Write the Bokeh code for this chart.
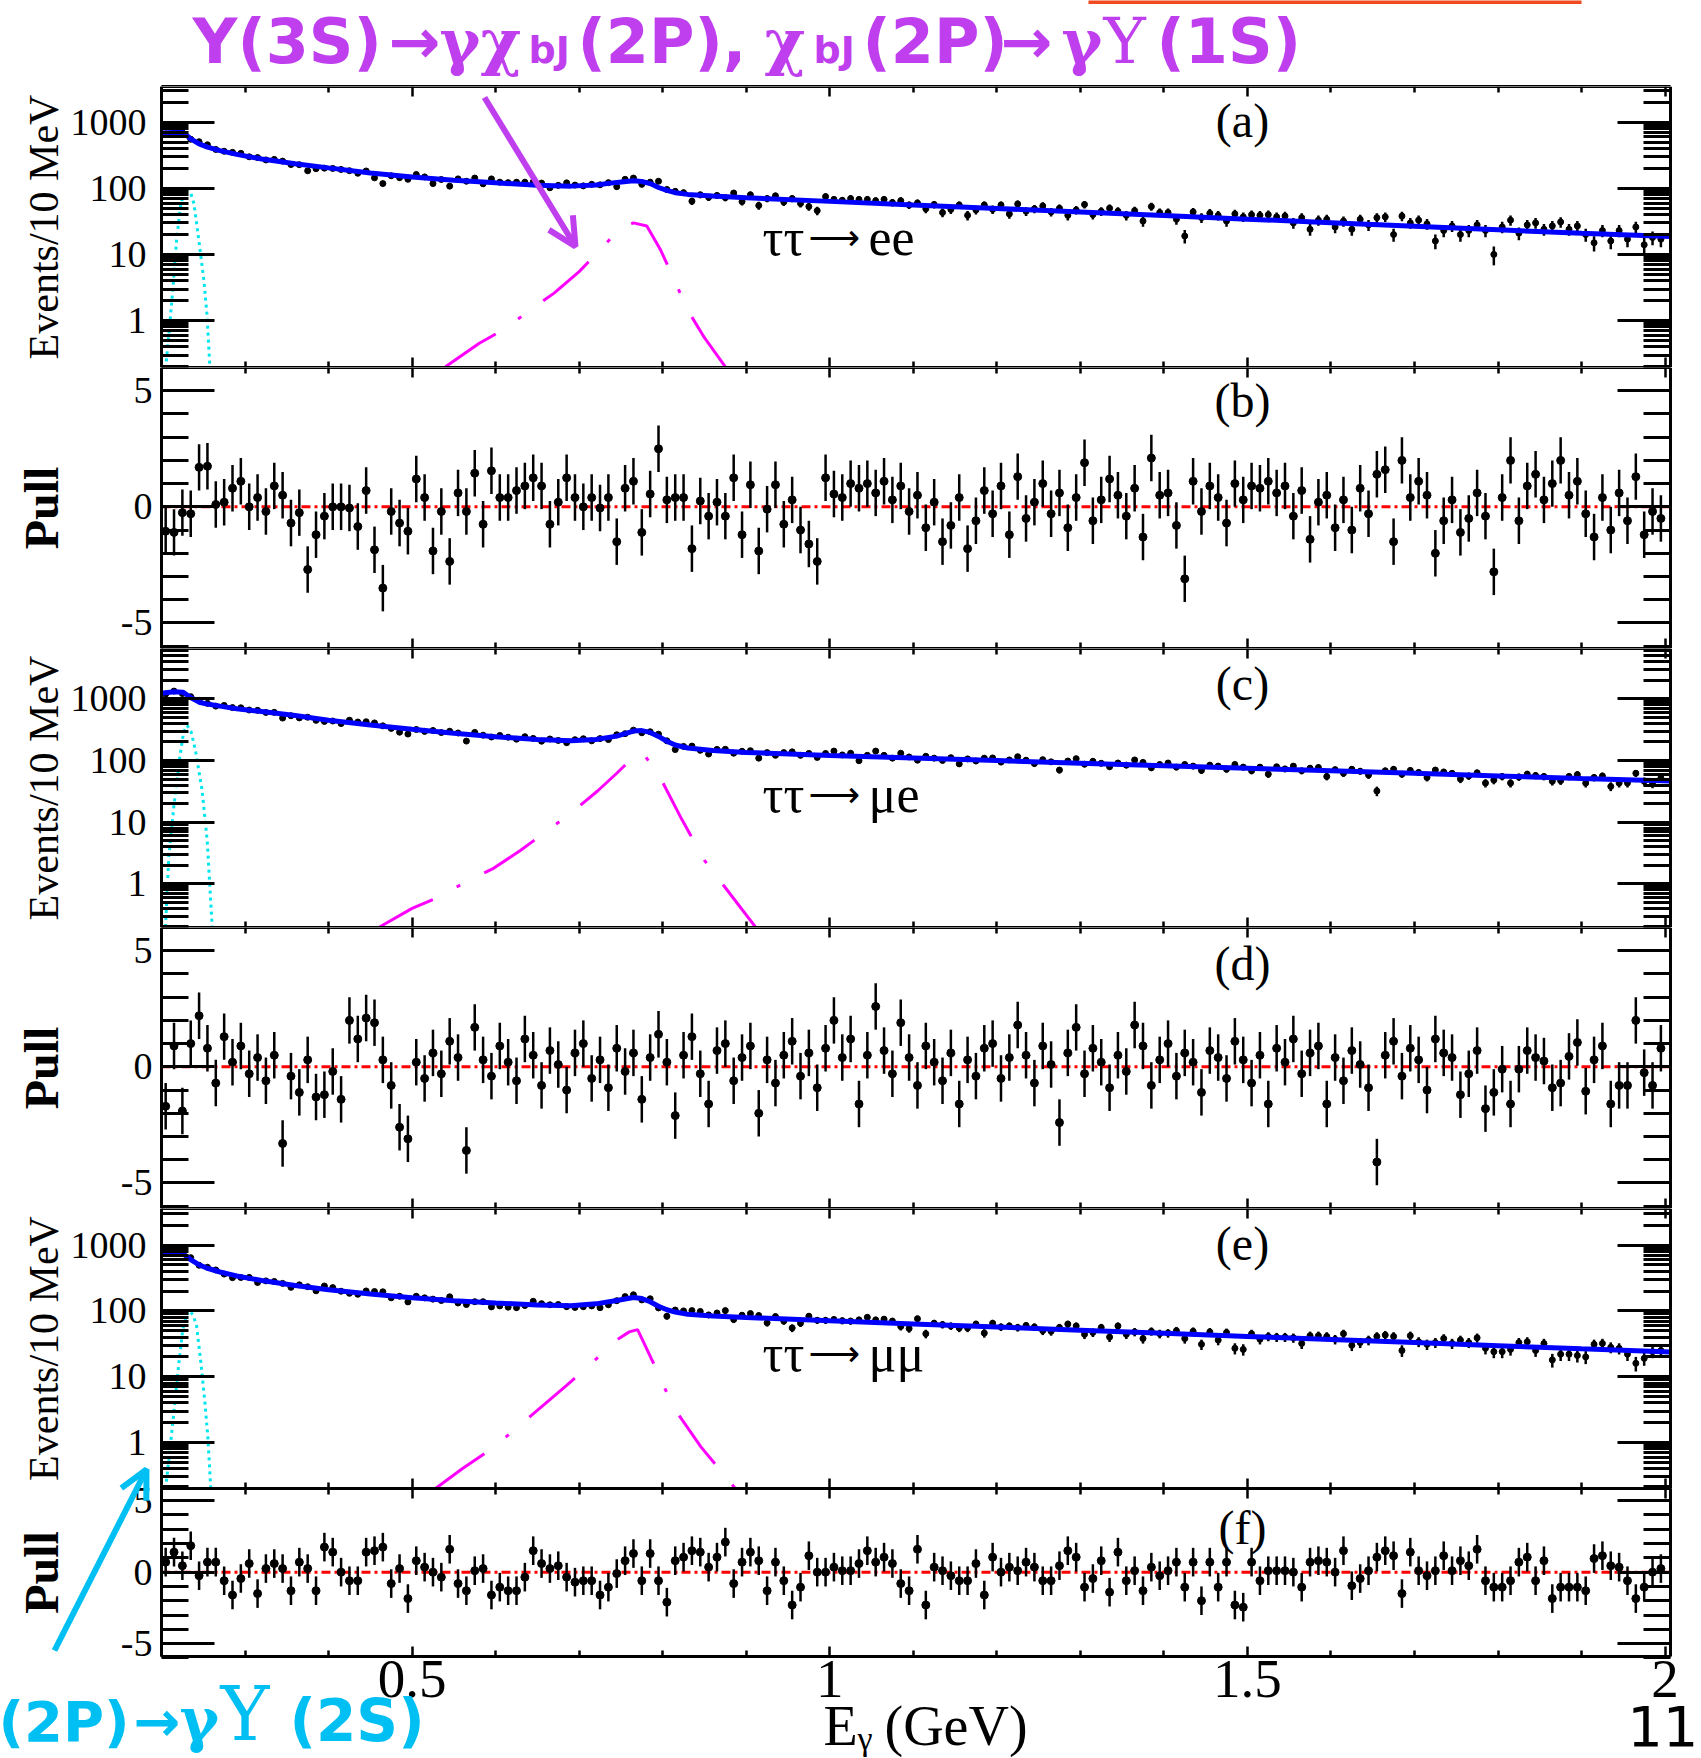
import numpy as np
from bokeh.plotting import figure
from bokeh.models import (Range1d, LinearAxis, LogAxis, FixedTicker, BasicTickFormatter,
                          Label, Arrow, OpenHead, LogScale)
from bokeh.layouts import column
from bokeh.embed import file_html
from bokeh.resources import INLINE

# ---------------- data (10 MeV bins, 0.2 - 2.0 GeV) ----------------
E_BIN = np.round(0.205 + 0.01 * np.arange(180), 3)

# (a) tau tau -> e e : events / 10 MeV
cnt_a = [662, 671, 693, 553, 507, 456, 387, 364, 350, 338,
         300, 292, 269, 274, 258, 229, 228, 184, 198, 202,
         200, 193, 185, 169, 183, 144, 118, 155, 145, 137,
         162, 149, 118, 136, 108, 139, 128, 143, 117, 139,
         124, 122, 124, 124, 125, 120, 102, 111, 121, 112,
         109, 115, 113, 122, 106, 137, 143, 115, 124, 128,
         96, 90, 86, 64, 80, 73, 78, 72, 85, 63,
         80, 55, 70, 77, 62, 70, 59, 53, 46, 75,
         68, 66, 70, 68, 68, 65, 68, 61, 65, 56,
         60, 49, 57, 43, 48, 56, 39, 47, 56, 48,
         56, 41, 58, 45, 49, 54, 44, 50, 39, 47,
         57, 40, 45, 50, 45, 39, 46, 32, 53, 43,
         43, 34, 19, 44, 36, 42, 39, 32, 41, 37,
         40, 39, 40, 37, 38, 30, 36, 24, 33, 34,
         26, 32, 24, 34, 28, 36, 37, 20, 38, 30,
         33, 29, 16, 23, 27, 20, 23, 28, 23, 10,
         26, 33, 21, 28, 30, 24, 27, 31, 24, 27,
         20, 15, 23, 16, 23, 17, 26, 14, 18, 17]

# (b) pull for (a)
pull_b = [-1.05, -1.1, -0.25, -0.3, 1.7, 1.75, 0.1, 0.2, 0.8, 1.1,
          0.0, 0.4, -0.2, 0.9, 0.5, -0.7, -0.25, -2.7, -1.2, -0.4,
          0.0, 0.0, -0.05, -0.85, 0.7, -1.85, -3.5, -0.2, -0.7, -1.05,
          1.2, 0.4, -1.9, -0.2, -2.35, 0.6, -0.2, 1.45, -0.75, 1.55,
          0.4, 0.4, 0.7, 0.9, 1.25, 0.9, -0.75, 0.2, 1.25, 0.4,
          0.0, 0.4, -0.05, 0.4, -1.5, 0.8, 1.1, -1.1, 0.55, 2.5,
          0.3, 0.4, 0.4, -1.8, 0.25, -0.4, 0.2, -0.4, 1.25, -1.2,
          0.95, -1.9, -0.1, 0.95, -0.75, 0.3, -1.0, -1.6, -2.35, 1.25,
          0.55, 0.4, 1.0, 0.8, 1.0, 0.6, 1.1, 0.3, 0.9, -0.2,
          0.5, -0.9, 0.2, -1.5, -0.8, 0.4, -1.8, -0.6, 0.7, -0.3,
          0.9, -1.2, 1.3, -0.5, 0.2, 1.0, -0.3, 0.6, -0.9, 0.4,
          1.9, -0.6, 0.3, 1.2, 0.5, -0.4, 0.8, -1.3, 2.1, 0.5,
          0.6, -0.8, -3.1, 1.1, -0.2, 0.9, 0.4, -0.7, 1.0, 0.3,
          0.9, 0.8, 1.1, 0.6, 0.9, -0.4, 0.7, -1.4, 0.2, 0.5,
          -0.9, 0.3, -1.0, 0.8, -0.3, 1.4, 1.6, -1.5, 2.0, 0.4,
          1.1, 0.5, -2.0, -0.6, 0.3, -1.1, -0.5, 0.6, -0.4, -2.8,
          0.4, 2.0, -0.6, 0.9, 1.4, 0.3, 1.0, 2.0, 0.5, 1.1,
          -0.3, -1.3, 0.4, -1.0, 0.6, -0.6, 1.3, -1.2, -0.2, -0.5]

# (c) tau tau -> mu e
cnt_c = [1190, 1332, 1212, 1082, 945, 843, 760, 780, 720, 714,
         657, 650, 600, 602, 486, 531, 490, 502, 447, 429,
         436, 396, 450, 420, 424, 406, 364, 331, 287, 268,
         318, 296, 306, 283, 298, 279, 206, 285, 257, 240,
         254, 238, 221, 243, 228, 205, 223, 211, 194, 217,
         225, 208, 226, 218, 261, 272, 310, 281, 292, 267,
         208, 150, 169, 171, 146, 127, 151, 152, 131, 141,
         144, 109, 134, 121, 134, 138, 121, 130, 112, 130,
         142, 123, 131, 99, 121, 142, 121, 109, 131, 114,
         101, 117, 109, 100, 111, 88, 106, 98, 109, 110,
         94, 102, 115, 101, 89, 103, 95, 70, 98, 107,
         87, 97, 90, 79, 91, 84, 102, 93, 76, 86,
         91, 78, 86, 81, 69, 84, 81, 72, 86, 78,
         68, 78, 60, 79, 73, 81, 68, 75, 77, 55,
         71, 62, 72, 67, 58, 32, 68, 72, 60, 69,
         64, 53, 70, 65, 62, 50, 56, 63, 43, 48,
         55, 43, 54, 60, 57, 55, 46, 47, 55, 59,
         43, 53, 56, 38, 43, 43, 62, 46, 42, 52]

# (d) pull for (c)
pull_d = [-1.7, 0.9, -1.9, 1.0, 2.2, 0.8, -0.7, 1.3, 0.2, 0.9,
          -0.3, 0.4, -0.6, 0.5, -3.3, -0.4, -1.1, 0.3, -1.3, -1.2,
          -0.2, -1.4, 2.0, 1.2, 2.1, 1.9, 0.3, -0.8, -2.6, -3.1,
          0.2, -0.5, 0.6, -0.3, 1.1, 0.4, -3.6, 1.7, 0.3, -0.4,
          0.9, 0.2, -0.6, 1.2, 0.5, -0.8, 0.7, 0.1, -1.0, 0.6,
          1.0, -0.5, 0.3, -0.9, 0.8, -0.2, 0.6, -1.4, 0.4, 1.4,
          0.2, -2.1, 0.5, 1.3, -0.3, -1.6, 0.7, 1.0, -0.6, 0.4,
          0.9, -2.0, 0.3, -0.7, 0.5, 1.1, -0.4, 0.6, -0.9, 0.8,
          2.0, 0.4, 1.2, -1.6, 0.5, 2.6, 0.7, -0.3, 1.9, 0.4,
          -0.8, 0.9, 0.2, -0.6, 0.6, -1.6, 0.3, -0.4, 0.8, 1.0,
          -0.5, 0.4, 1.8, 0.5, -0.7, 0.9, 0.1, -2.4, 0.6, 1.7,
          -0.3, 0.8, 0.2, -0.9, 0.5, -0.2, 1.8, 0.9, -0.8, 0.3,
          1.0, -0.4, 0.6, 0.2, -1.1, 0.7, 0.4, -0.5, 1.1, 0.3,
          -0.7, 0.5, -1.6, 0.8, 0.2, 1.2, -0.3, 0.6, 0.9, -1.6,
          0.4, -0.6, 0.7, 0.1, -0.9, -4.1, 0.5, 1.1, -0.4, 0.8,
          0.3, -1.0, 1.2, 0.6, 0.4, -1.2, -0.3, 0.7, -1.8, -1.1,
          -0.1, -1.6, -0.1, 0.7, 0.4, 0.25, -0.9, -0.7, 0.45, 1.05,
          -1.05, 0.3, 0.9, -1.6, -0.8, -0.8, 2.0, -0.25, -0.8, 0.8]

# (e) tau tau -> mu mu
cnt_e = [759, 799, 752, 645, 494, 460, 419, 363, 320, 322,
         323, 270, 286, 280, 262, 228, 249, 233, 202, 239,
         226, 199, 185, 179, 201, 197, 195, 158, 167, 137,
         167, 158, 151, 144, 164, 132, 125, 138, 138, 115,
         119, 114, 112, 121, 140, 129, 124, 125, 116, 113,
         116, 119, 112, 124, 143, 165, 176, 147, 153, 111,
         83, 103, 100, 101, 98, 87, 93, 101, 74, 86,
         91, 85, 66, 82, 70, 55, 65, 83, 72, 72,
         74, 71, 70, 73, 80, 73, 75, 70, 58, 54,
         76, 45, 65, 62, 59, 55, 55, 63, 46, 65,
         57, 59, 56, 60, 57, 50, 49, 56, 63, 59,
         44, 47, 56, 40, 59, 44, 48, 38, 49, 45,
         46, 50, 38, 49, 31, 48, 36, 47, 27, 26,
         45, 37, 41, 40, 40, 39, 32, 42, 42, 41,
         37, 45, 30, 33, 36, 41, 43, 41, 25, 42,
         34, 31, 33, 38, 32, 36, 33, 39, 27, 24,
         24, 26, 33, 34, 25, 32, 18, 22, 22, 21,
         20, 31, 32, 28, 27, 22, 16, 19, 24, 25]

# (f) pull for (e)
pull_f = [0.7, 1.4, 0.45, 1.85, -0.25, 0.7, 0.7, -0.6, -1.6, -0.45,
          0.6, -1.5, 0.25, 0.6, 0.25, -1.3, 0.7, 0.25, -1.3, 1.75,
          1.4, 0.0, -0.6, -0.6, 1.4, 1.5, 1.75, -0.8, 0.25, -1.85,
          0.8, 0.35, 0.0, -0.35, 1.6, -0.8, -1.3, 0.1, 0.25, -1.6,
          -1.05, -1.3, -1.3, -0.35, 1.5, 0.6, 0.25, 0.45, -0.35, -0.7,
          -0.6, -0.6, -1.6, -1.05, -0.1, 0.8, 1.3, -0.6, 1.3, -0.6,
          -2.1, 0.8, 1.05, 1.5, 1.4, 0.35, 1.05, 2.1, -0.8, 0.7,
          1.4, 0.8, -1.3, 0.7, -0.6, -2.3, -1.05, 1.15, 0.0, 0.0,
          0.35, 0.1, 0.1, 0.6, 1.5, 0.7, 1.05, 0.6, -0.8, -1.3,
          1.6, -2.3, 0.35, 0.1, -0.25, -0.6, -0.6, 0.6, -1.6, 1.05,
          0.0, 0.35, 0.1, 0.7, 0.35, -0.6, -0.6, 0.45, 1.5, 1.05,
          -1.05, -0.45, 0.8, -1.4, 1.4, -0.6, 0.1, -1.3, 0.35, -0.25,
          0.1, 0.7, -1.05, 0.7, -2.0, 0.7, -1.05, 0.7, -2.3, -2.45,
          0.7, -0.6, 0.1, 0.1, 0.1, 0.0, -1.05, 0.7, 0.8, 0.7,
          0.0, 1.5, -0.95, -0.45, 0.1, 1.05, 1.5, 1.15, -1.5, 1.4,
          0.1, -0.25, 0.1, 1.15, 0.1, 0.8, 0.45, 1.6, -0.6, -1.05,
          -1.05, -0.6, 0.7, 1.05, -0.6, 0.8, -1.85, -1.05, -1.05, -1.05,
          -1.3, 0.95, 1.15, 0.45, 0.35, -0.6, -1.85, -1.05, 0.0, 0.25]

# total fit curves (blue)
fit_E = [0.200, 0.215, 0.226, 0.235, 0.245, 0.255, 0.270, 0.290, 0.320, 0.360,
         0.400, 0.450, 0.500, 0.550, 0.600, 0.650, 0.690, 0.720, 0.745, 0.765,
         0.775, 0.785, 0.795, 0.805, 0.815, 0.830, 0.860, 0.900, 1.000, 1.100,
         1.200, 1.300, 1.400, 1.500, 1.600, 1.700, 1.800, 1.900, 2.0065]
fit_a = [685, 700, 700, 560, 470, 420, 372, 326, 278, 236,
         204, 171, 148, 133, 121, 111.5, 108, 112, 123, 130,
         127, 118, 103, 93, 86, 81, 76.5, 72, 63.5, 56,
         49.6, 43.8, 38.7, 34.2, 30.2, 26.7, 23.6, 20.9, 18.7]
fit_c = [1230, 1300, 1270, 1050, 880, 820, 760, 690, 620, 535,
         448, 376, 320, 276, 243, 219, 208, 218, 248, 300,
         305, 285, 245, 205, 178, 159, 145, 135, 120.5, 109.5,
         99.5, 90.5, 82.3, 74.8, 68, 61.8, 56.2, 51.1, 46.3]
fit_e = [745, 760, 740, 600, 500, 445, 390, 340, 289, 243,
         209, 180, 158, 143, 132, 123, 120, 128, 144, 160,
         154, 138, 118, 104, 96, 89, 83.5, 79.5, 70.8, 63.5,
         56.9, 51, 45.7, 41, 36.8, 33, 29.6, 26.5, 23.8]

# chi_bJ(2P) -> gamma Upsilon(2S) component (cyan, dotted)
cyan_a_E = [0.205, 0.210, 0.214, 0.218, 0.2225, 0.227, 0.231, 0.235, 0.2388, 0.2448, 0.2508, 0.2545, 0.258]
cyan_a_y = [0.19, 0.9, 3.5, 16, 52, 88, 100, 85, 59, 16, 4.0, 1.2, 0.19]
cyan_c_E = [0.2048, 0.2087, 0.2147, 0.2219, 0.2265, 0.2308, 0.2355, 0.2407, 0.2487, 0.2547, 0.2607]
cyan_c_y = [0.2, 2.7, 17.5, 113, 290, 369, 290, 145, 32, 5, 0.2]
cyan_e_E = [0.205, 0.211, 0.216, 0.221, 0.2255, 0.230, 0.234, 0.238, 0.242, 0.247, 0.252, 0.2555, 0.259]
cyan_e_y = [0.2, 1.0, 4, 17, 52, 88, 100, 85, 59, 17, 4, 1.2, 0.2]

# chi_bJ(2P) -> gamma Upsilon(1S) component (magenta, dash-dot)
mag_a_E = [0.540, 0.580, 0.611, 0.640, 0.670, 0.700, 0.726, 0.749, 0.765, 0.781, 0.797, 0.813, 0.829, 0.850, 0.875]
mag_a_y = [0.2, 0.45, 0.75, 1.4, 2.6, 5.5, 12, 25, 30, 27, 12, 4.4, 1.5, 0.55, 0.2]
mag_c_E = [0.461, 0.500, 0.527, 0.566, 0.598, 0.630, 0.657, 0.690, 0.722, 0.745, 0.768, 0.777, 0.797, 0.823, 0.850, 0.873, 0.911]
mag_c_y = [0.2, 0.4, 0.57, 1.1, 1.8, 3.5, 6.5, 14, 32, 62, 125, 128, 53, 11, 2.4, 0.94, 0.2]
mag_e_E = [0.528, 0.560, 0.598, 0.640, 0.685, 0.715, 0.743, 0.760, 0.770, 0.790, 0.813, 0.846, 0.887]
mag_e_y = [0.2, 0.4, 0.85, 2.4, 7.4, 16, 35, 48, 52, 15, 3.4, 0.85, 0.2]

PULL_REF = 0.0
X_MIN, X_MAX = 0.2, 2.0065
X_MAJOR = [0.5, 1.0, 1.5, 2.0]
X_MINOR = [0.2, 0.3, 0.4, 0.6, 0.7, 0.8, 0.9, 1.1, 1.2, 1.3, 1.4, 1.6, 1.7, 1.8, 1.9]
LOG_MAJOR = [1, 10, 100, 1000]
LOG_MINOR = [m * 10.0 ** e for e in range(-1, 4) for m in range(2, 10)]
PULL_MAJOR = [-5, 0, 5]
PULL_MINOR = [-6, -4, -3, -2, -1, 1, 2, 3, 4, 6]

for arr in (cnt_a, cnt_c, cnt_e, pull_b, pull_d, pull_f):
    assert len(arr) == 180, len(arr)

# ---------------- layout constants ----------------
W = 1701
FL, FR = 161, 1670                 # page x of the panel frame edges
PXG = (FR - FL) / (X_MAX - X_MIN)  # pixels per GeV
XL = X_MIN - FL / PXG
XR = XL + W / PXG
SERIF = "Liberation Serif"
DSERIF = "DejaVu Serif"
SANS = "DejaVu Sans"
PURPLE = "#BF3FEF"
CYAN_T = "#00BFF3"

xr = Range1d(XL, XR)


def base_fig(height, yr, ylog=False, **kw):
    p = figure(frame_width=W, frame_height=height, x_range=xr, y_range=yr,
               y_axis_type="log" if ylog else "linear",
               x_axis_location=None, y_axis_location=None,
               min_border=0, min_border_left=0, min_border_right=0,
               min_border_top=0, min_border_bottom=0,
               toolbar_location=None, output_backend="svg", **kw)
    p.background_fill_color = "white"
    p.border_fill_color = "white"
    p.outline_line_color = None
    for g in p.grid:
        g.visible = False
    return p


def tick_axis(p, loc, minor, length, fixed, line=False, bounds=None, log=False, rn="default"):
    cls = LogAxis if log else LinearAxis
    ax = cls(ticker=FixedTicker(ticks=[], minor_ticks=minor), fixed_location=fixed, y_range_name=rn)
    ax.major_tick_in = 0
    ax.major_tick_out = 0
    ax.minor_tick_in = length
    ax.minor_tick_out = 0
    ax.minor_tick_line_width = 3 if loc in ("left", "right") else 2.5
    ax.axis_line_color = "black" if line else None
    ax.axis_line_width = 3
    if bounds is not None:
        ax.bounds = bounds
    p.add_layout(ax, loc)


def frame_axes(p, ylo, yhi, ylog, label, lab_size, lab_style, lab_standoff, tick_standoff,
               rn="default", xlabels=False):
    majors = LOG_MAJOR if ylog else PULL_MAJOR
    minors = LOG_MINOR if ylog else PULL_MINOR
    if ylog:
        ax = LogAxis(ticker=FixedTicker(ticks=majors, minor_ticks=minors),
                     formatter=BasicTickFormatter(), fixed_location=X_MIN, y_range_name=rn)
        ax.major_label_overrides = {1: "1", 10: "10", 100: "100", 1000: "1000"}
    else:
        ax = LinearAxis(ticker=FixedTicker(ticks=majors, minor_ticks=minors),
                        fixed_location=X_MIN, y_range_name=rn)
        ax.major_label_overrides = {-5: "-5", 0: "0", 5: "5"}
    ax.bounds = (ylo, yhi)
    ax.axis_line_color = "black"
    ax.axis_line_width = 3
    ax.major_tick_in = 53
    ax.major_tick_out = 0
    ax.minor_tick_in = 27
    ax.minor_tick_out = 0
    ax.major_tick_line_width = 3
    ax.minor_tick_line_width = 3
    ax.major_label_text_font = SERIF
    ax.major_label_text_font_size = "38px"
    ax.major_label_text_color = "black"
    ax.major_label_standoff = tick_standoff
    ax.axis_label = label
    ax.axis_label_text_font = SERIF
    ax.axis_label_text_font_size = f"{lab_size}px"
    ax.axis_label_text_font_style = lab_style
    ax.axis_label_text_color = "black"
    ax.axis_label_standoff = lab_standoff
    p.add_layout(ax, "left")
    yb = (ylo, yhi)
    tick_axis(p, "right", majors, 53, X_MAX, line=True, bounds=yb, log=ylog, rn=rn)
    tick_axis(p, "right", minors, 27, X_MAX, bounds=yb, log=ylog, rn=rn)
    b = (X_MIN, X_MAX)
    tick_axis(p, "above", X_MAJOR, 10, yhi, line=True, bounds=b, rn=rn)
    tick_axis(p, "above", X_MINOR, 6, yhi, bounds=b, rn=rn)
    if xlabels:
        xa = LinearAxis(ticker=FixedTicker(ticks=X_MAJOR, minor_ticks=X_MINOR),
                        fixed_location=ylo, y_range_name=rn)
        xa.bounds = b
        xa.axis_line_color = "black"
        xa.axis_line_width = 3
        xa.major_tick_in = 10
        xa.major_tick_out = 0
        xa.minor_tick_in = 6
        xa.minor_tick_out = 0
        xa.major_tick_line_width = 2.5
        xa.minor_tick_line_width = 2.5
        xa.major_label_text_font = SERIF
        xa.major_label_text_font_size = "55px"
        xa.major_label_text_color = "black"
        xa.major_label_standoff = 4
        xa.major_label_overrides = {0.5: "0.5", 1.0: "1", 1.5: "1.5", 2.0: "2"}
        p.add_layout(xa, "below")
    else:
        tick_axis(p, "below", X_MAJOR, 10, ylo, line=True, bounds=b, rn=rn)
        tick_axis(p, "below", X_MINOR, 6, ylo, bounds=b, rn=rn)


def count_panel(p, counts, fit_y, cyan_E, cyan_y, mag_E, mag_y, rn="default"):
    c = np.array(counts, dtype=float)
    err = np.sqrt(c)
    p.segment(x0=E_BIN, y0=c - err, x1=E_BIN, y1=c + err, line_color="black", line_width=2.5,
              y_range_name=rn)
    p.scatter(E_BIN, c, size=6, marker="circle", fill_color="black", line_color="black",
              y_range_name=rn)
    p.line(cyan_E, cyan_y, line_color="#00E5EE", line_width=3, line_dash="3 4", y_range_name=rn)
    p.line(mag_E, mag_y, line_color="#FF00FF", line_width=3, line_dash="60 27 4 27",
           y_range_name=rn)
    p.line(fit_E, fit_y, line_color="#0000FF", line_width=5, y_range_name=rn)


def pull_panel(p, pulls):
    pl = np.array(pulls, dtype=float)
    p.line([X_MIN, X_MAX], [PULL_REF, PULL_REF], line_color="#FF0000", line_width=3,
           line_dash="9 4 3 4")
    p.segment(x0=E_BIN, y0=pl - 1, x1=E_BIN, y1=pl + 1, line_color="black", line_width=2.5)
    p.scatter(E_BIN, pl, size=8, marker="circle", fill_color="black", line_color="black")


def page_label(p, fb, px, py, text, font, size, color, style="normal", align="left"):
    """px, py: page position of the text's centre line; fb: page y of the frame bottom."""
    p.add_layout(Label(x=px, y=fb - py, x_units="screen", y_units="screen", text=text,
                       text_font=font, text_font_size=f"{size}px", text_font_style=style,
                       text_color=color, text_align=align, text_baseline="middle"))


def page_arrow(p, fb, x0, y0, x1, y1, color, width=6, head=True):
    end = OpenHead(size=28, line_color=color, line_width=width) if head else None
    p.add_layout(Arrow(x_start=x0, y_start=fb - y0, x_end=x1, y_end=fb - y1,
                       start_units="screen", end_units="screen",
                       line_color=color, line_width=width, end=end))


def channel(p, fb, py, ch):
    page_label(p, fb, 762, py, "ττ", SERIF, 52, "black")
    page_label(p, fb, 808, py, "⟶", SANS, 36, "black")
    page_label(p, fb, 868, py, ch, SERIF, 52, "black")


# ---------------- figures (stacked, page y ranges) ----------------
A_LO, A_HI = 0.195, 3470
B_LO, B_HI = -6.1, 6.0
C_LO, C_HI = 0.196, 6530
D_LO, D_HI = -6.1, 6.0
E_LO, E_HI = 0.2, 3600
F_LO, F_HI = -5.9, 5.85

fh = base_fig(86, Range1d(0, 86))                       # page 0 - 86
fa = base_fig(281, Range1d(A_LO, A_HI), True)           # 86 - 367
fb_ = base_fig(281, Range1d(B_LO, B_HI))                # 367 - 648
fc = base_fig(279, Range1d(C_LO, C_HI), True)           # 648 - 927
fd = base_fig(281, Range1d(D_LO, D_HI))                 # 927 - 1208

# panels (e) 1208-1488 and (f) 1488-1656 plus the footer 1656-1758 share one canvas
H_E, H_F, H_FOOT = 280, 168, 102
f_px = H_F / (F_HI - F_LO)
rng_pull = Range1d(F_LO - H_FOOT / f_px, F_HI + H_E / f_px)
e_dec = np.log10(E_HI / E_LO) / H_E
rng_log = Range1d(E_HI / 10 ** ((H_E + H_F + H_FOOT) * e_dec), E_HI)
fef = base_fig(H_E + H_F + H_FOOT, rng_pull, False,
               extra_y_ranges={"log": rng_log}, extra_y_scales={"log": LogScale()})

frame_axes(fa, A_LO, A_HI, True, "Events/10 MeV", 42, "normal", 1, 15)
frame_axes(fc, C_LO, C_HI, True, "Events/10 MeV", 42, "normal", 1, 15)
frame_axes(fef, E_LO, E_HI, True, "Events/10 MeV", 42, "normal", 1, 15, rn="log")
frame_axes(fb_, B_LO, B_HI, False, "Pull", 48, "bold", 50, 9)
frame_axes(fd, D_LO, D_HI, False, "Pull", 48, "bold", 50, 9)
frame_axes(fef, F_LO, F_HI, False, "Pull", 48, "bold", 50, 9, xlabels=True)

count_panel(fa, cnt_a, fit_a, cyan_a_E, cyan_a_y, mag_a_E, mag_a_y)
count_panel(fc, cnt_c, fit_c, cyan_c_E, cyan_c_y, mag_c_E, mag_c_y)
count_panel(fef, cnt_e, fit_e, cyan_e_E, cyan_e_y, mag_e_E, mag_e_y, rn="log")
pull_panel(fb_, pull_b)
pull_panel(fd, pull_d)
pull_panel(fef, pull_f)

tick_axis(fh, "below", [], 0, 0, line=True, bounds=(X_MIN, X_MAX))

# panel letters
for p, fb, py, txt in ((fa, 367, 119.5, "(a)"), (fb_, 648, 400, "(b)"), (fc, 927, 682.5, "(c)"),
                       (fd, 1208, 963, "(d)"), (fef, 1758, 1243, "(e)"), (fef, 1758, 1527, "(f)")):
    page_label(p, fb, 1242, py, txt, SERIF, 48, "black", align="center")

channel(fa, 367, 236.5, "ee")
channel(fc, 927, 793.5, "μe")
channel(fef, 1758, 1352.5, "μμ")

# ---------------- header: underline + purple title ----------------
page_arrow(fh, 86, 1088, 1.5, 1581, 1.5, "#F04A1E", width=4, head=False)
for px, txt, font, size, style, py in (
        (192, "Υ(3S)", SANS, 62, "bold", 40.5),
        (388, "→", SANS, 62, "bold", 40.5),
        (439, "γ", DSERIF, 62, "bold", 40.5),
        (480, "χ", DSERIF, 62, "bold", 40.5),
        (528, "bJ", SANS, 38, "bold", 49.9),
        (577, "(2P),", SANS, 62, "bold", 40.5),
        (764, "χ", DSERIF, 62, "bold", 40.5),
        (813, "bJ", SANS, 38, "bold", 49.9),
        (862, "(2P)", SANS, 62, "bold", 40.5),
        (1000, "→", SANS, 62, "bold", 40.5),
        (1061, "γ", DSERIF, 62, "bold", 40.5),
        (1103, "Υ", DSERIF, 64, "normal", 40.0),
        (1156, "(1S)", SANS, 62, "bold", 40.5)):
    page_label(fh, 86, px, py, txt, font, size, PURPLE, style)

page_arrow(fa, 367, 484, 97, 575, 246, PURPLE)

# ---------------- cyan arrow and bottom texts ----------------
page_arrow(fef, 1758, 54, 1650, 146, 1469, CYAN_T)
for px, txt, font, size, style, py in (
        (-2, "(2P)", SANS, 56, "bold", 1720.6),
        (133, "→", SANS, 56, "bold", 1720.6),
        (179, "γ", DSERIF, 60, "bold", 1719),
        (220, "Υ", DSERIF, 74, "normal", 1713),
        (289, "(2S)", SANS, 58, "bold", 1720)):
    page_label(fef, 1758, px, py, txt, font, size, CYAN_T, style)

page_label(fef, 1758, 823, 1725, "E", SERIF, 56, "black")
page_label(fef, 1758, 857, 1738, "γ", SERIF, 34, "black")
page_label(fef, 1758, 884, 1725, "(GeV)", SERIF, 56, "black")
page_label(fef, 1758, 1698, 1725, "11", SANS, 56, "black", align="right")

layout = column(fh, fa, fb_, fc, fd, fef, spacing=0)
open("out.html", "w").write(file_html(layout, INLINE))
